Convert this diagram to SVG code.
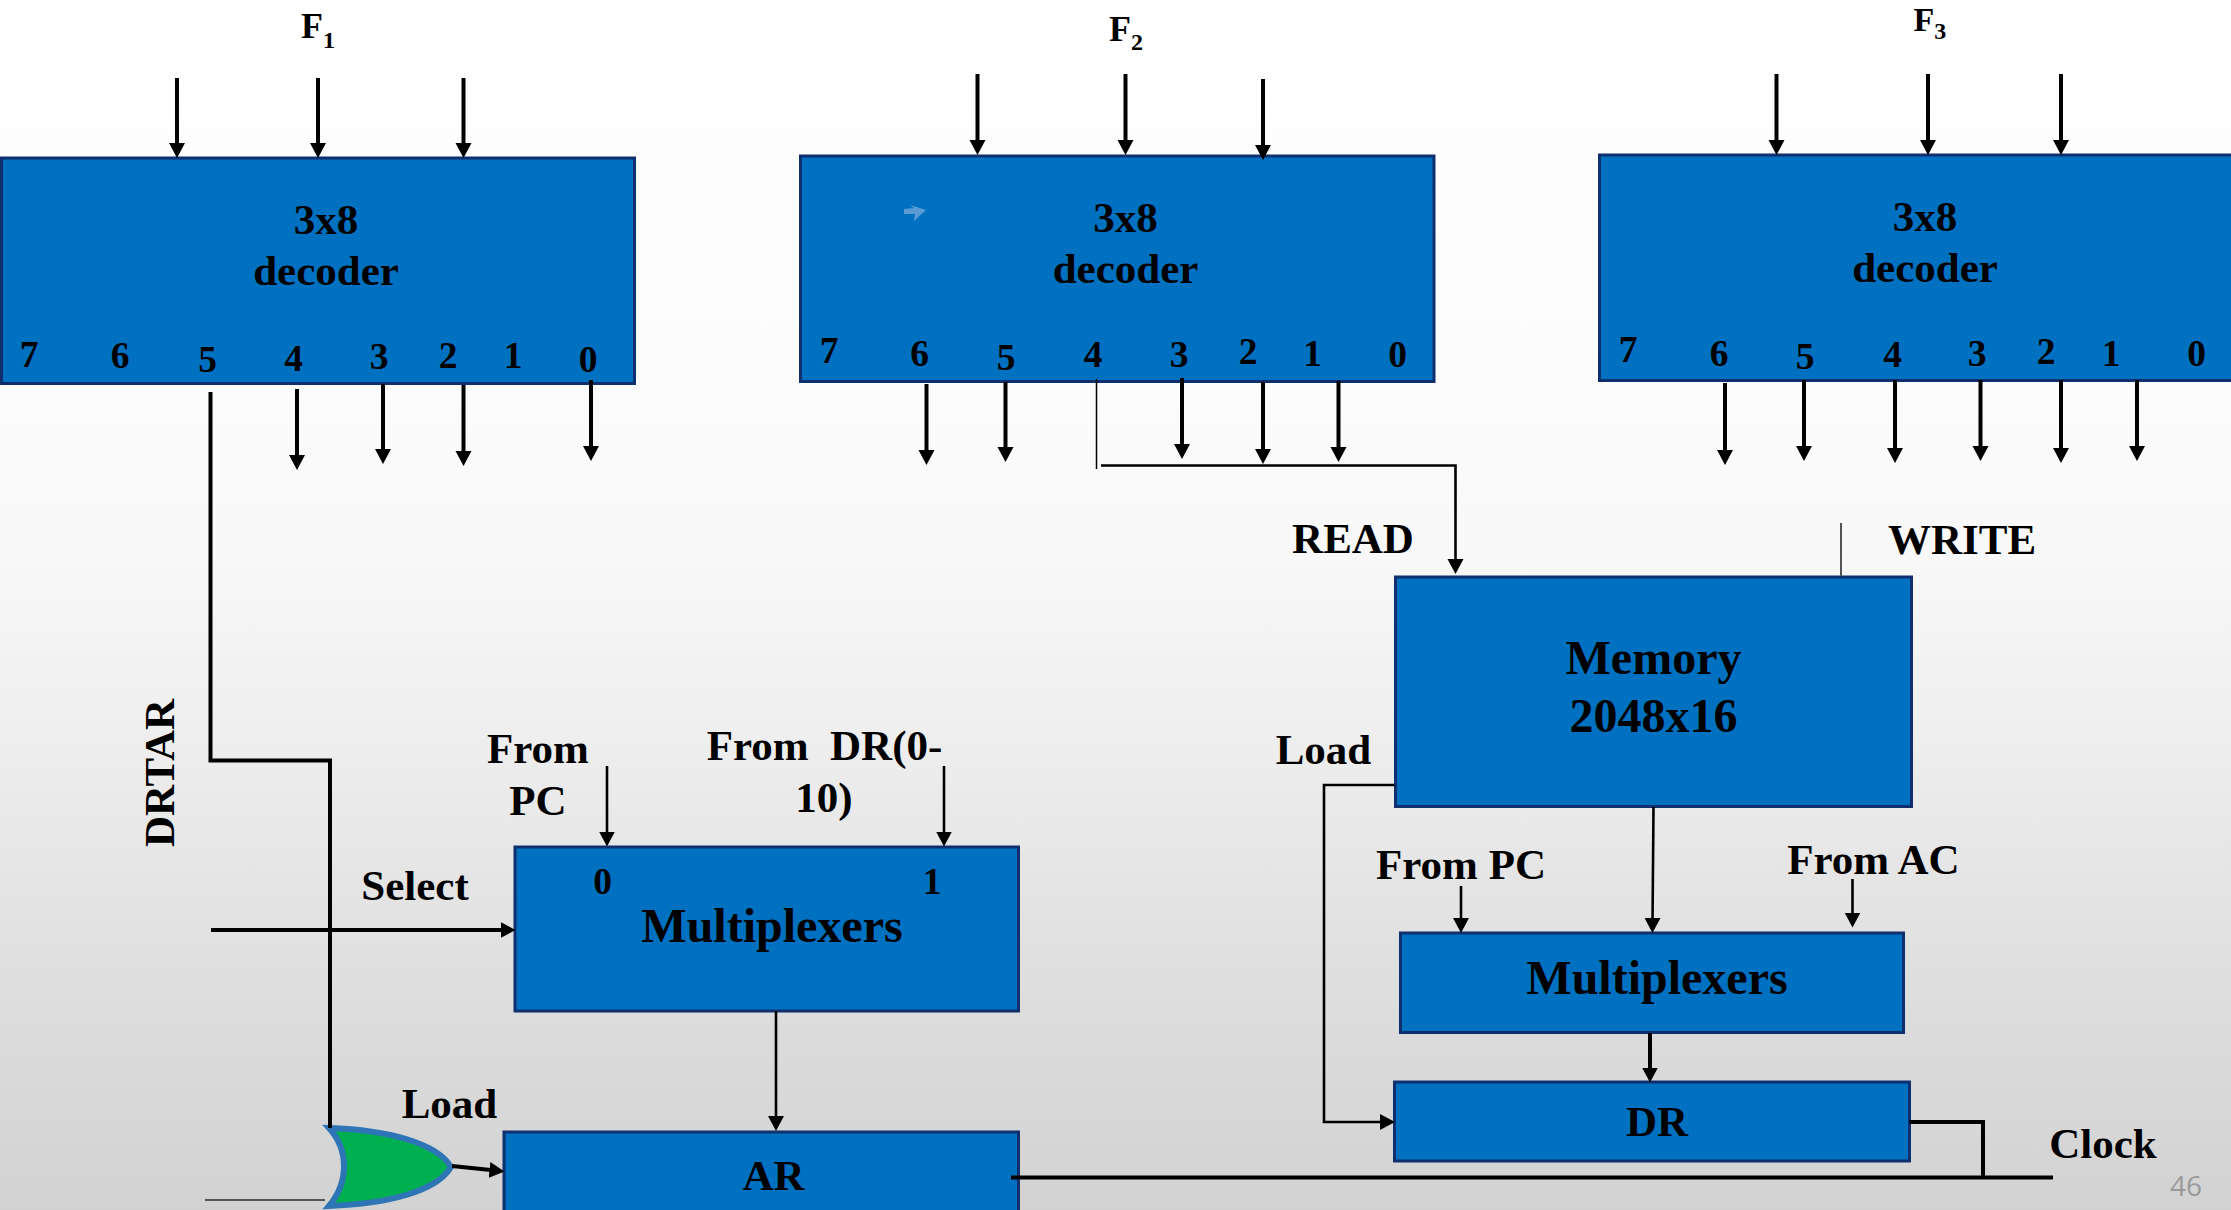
<svg xmlns="http://www.w3.org/2000/svg" width="2231" height="1210" viewBox="0 0 2231 1210">
<style>
.box{fill:#0070c0;stroke:#0f2f6f;stroke-width:3}
text{font-family:"Liberation Serif","Times New Roman",serif;font-weight:700;fill:#000;text-anchor:middle}
.t{font-size:43px}
.b{font-size:48px}
.d{font-size:37.500px}
.l{font-size:43px}
.s{text-anchor:start;font-size:36px}
.w{fill:none;stroke:#000;stroke-width:4}
.a{marker-end:url(#arrow)}
.n{fill:none;stroke:#000;stroke-width:2.600}
.g{fill:none;stroke:#555;stroke-width:2}
</style>
<defs>
<linearGradient id="bg" x1="0" y1="0" x2="0" y2="1">
<stop offset="0" stop-color="#ffffff"/><stop offset="0.3" stop-color="#fcfcfc"/><stop offset="0.46" stop-color="#f8f8f8"/><stop offset="0.6" stop-color="#efefef"/><stop offset="0.8" stop-color="#dfdfdf"/><stop offset="1" stop-color="#d2d2d2"/>
</linearGradient>
<marker id="arrow" markerUnits="userSpaceOnUse" markerWidth="16" markerHeight="17" viewBox="0 0 16 17" refX="6" refY="8.500" orient="auto"><path d="M0 0.500L15 8.500L0 16.500z" fill="#000"/></marker>
</defs>
<rect id="background" width="2231" height="1210" fill="url(#bg)"/>
<g id="decoder1"><rect class="box" x="1.500" y="158" width="633" height="225.500"/>
<text class="t" x="326" y="234">3x8</text><text class="t" x="326" y="285">decoder</text>
<text class="d" x="29" y="367">7</text><text class="d" x="120" y="368">6</text><text class="d" x="207.500" y="372">5</text><text class="d" x="293.500" y="371">4</text><text class="d" x="379" y="369">3</text><text class="d" x="448" y="368">2</text><text class="d" x="513" y="368">1</text><text class="d" x="588" y="372">0</text></g>
<g id="decoder2"><rect class="box" x="800.500" y="156" width="633.500" height="225.500"/>
<path d="M904 209L914 208L910 205L926 210L914 221L915 214L904 214z" fill="#5b9bd5"/>
<text class="t" x="1125.500" y="232">3x8</text><text class="t" x="1125.500" y="283">decoder</text>
<text class="d" x="829" y="363">7</text><text class="d" x="919.500" y="366">6</text><text class="d" x="1006" y="370">5</text><text class="d" x="1093" y="367">4</text><text class="d" x="1179" y="367">3</text><text class="d" x="1248" y="364">2</text><text class="d" x="1312.500" y="366">1</text><text class="d" x="1397.500" y="367">0</text></g>
<g id="decoder3"><rect class="box" x="1599.500" y="155" width="634" height="225.500"/>
<text class="t" x="1925" y="231">3x8</text><text class="t" x="1925" y="282">decoder</text>
<text class="d" x="1628" y="362">7</text><text class="d" x="1719" y="365.500">6</text><text class="d" x="1805" y="369">5</text><text class="d" x="1892.500" y="366.500">4</text><text class="d" x="1977" y="366">3</text><text class="d" x="2046" y="363.500">2</text><text class="d" x="2111" y="365.500">1</text><text class="d" x="2196.500" y="365.500">0</text></g>
<g id="memory"><rect class="box" x="1395.500" y="577" width="516" height="229.500"/>
<text class="b" x="1653.500" y="674">Memory</text><text class="b" x="1653.500" y="732">2048x16</text></g>
<g id="mux2"><rect class="box" x="1400.500" y="933" width="503" height="99.500"/><text class="b" x="1657" y="994">Multiplexers</text></g>
<g id="dr"><rect class="box" x="1394.500" y="1082" width="515" height="79"/><text class="t" x="1657" y="1136">DR</text></g>
<g id="mux1"><rect class="box" x="515" y="847" width="503.500" height="164"/>
<text class="d" x="602.500" y="893.500">0</text><text class="d" x="932" y="893.500">1</text>
<text class="b" x="772" y="942">Multiplexers</text></g>
<g id="ar"><rect class="box" x="504" y="1132" width="514.500" height="90"/><text class="t" x="773.500" y="1190">AR</text></g>
<g id="orgate"><path d="M329 1128C388 1130 437 1143 451 1167C437 1191 388 1204 329 1206C349 1182 349 1150 329 1128z" fill="#00b050" stroke="#2e75b6" stroke-width="6"/></g>
<g id="connectors">
<path class="w a" d="M177 78V149"/><path class="w a" d="M318 78V149"/><path class="w a" d="M463.500 78V149"/>
<path class="w a" d="M297 389V461"/><path class="w a" d="M383 384V455"/><path class="w a" d="M463.500 385V457"/><path class="w a" d="M591 380V452"/>
<path class="w a" d="M977.500 74V146"/><path class="w a" d="M1125.500 74V146"/><path class="w a" d="M1263 79V151"/>
<path class="w a" d="M926.500 384V456"/><path class="w a" d="M1005.500 382V453"/><path class="w a" d="M1182 378V450"/><path class="w a" d="M1263 382V455"/><path class="w a" d="M1338.500 381V453"/>
<path class="w a" d="M1776.500 74V146"/><path class="w a" d="M1928 74V146"/><path class="w a" d="M2061 74V146"/>
<path class="w a" d="M1725 383V456"/><path class="w a" d="M1804 380V452"/><path class="w a" d="M1895 380V454"/><path class="w a" d="M1980.500 380V452"/><path class="w a" d="M2061 380V454"/><path class="w a" d="M2137 380V452"/>
<path class="w a" d="M211 930H506.500"/>
<path class="w a" d="M452 1166L495.500 1170.500"/>
<path class="w a" d="M1650 1033V1073.500"/>
<path class="n a" d="M607 766V837.500"/><path class="n a" d="M944 766V837.500"/>
<path class="n a" d="M776 1011V1122"/>
<path class="n a" d="M1653.500 807L1652.500 924"/>
<path class="n a" d="M1461 886V924"/><path class="n a" d="M1852.500 879V918.500"/>
<path class="n a" d="M1394.500 785H1324V1122H1386"/>
<path class="n a" d="M1101 465.500H1455.500V565"/>
<path class="n" d="M1096.500 379V469" style="stroke-width:1.500"/>
<path class="g" d="M1841 523V576"/>
<path class="g" d="M205 1200H325"/>
<path class="w" d="M210.500 392V760.500H330V1128"/>
<path class="w" d="M1909.500 1122H1983V1177.500"/>
<path class="w" d="M1011 1177.500H2053"/>
</g>
<g id="labels">
<text class="s" x="301" y="38">F<tspan font-size="24" dy="10">1</tspan></text>
<text class="s" x="1109" y="40.500">F<tspan font-size="24" dy="9">2</tspan></text>
<text class="s" x="1913.500" y="30.500" style="font-size:34px">F<tspan font-size="24" dy="8">3</tspan></text>
<text class="l" x="1353" y="552.500">READ</text>
<text class="l" x="1962" y="553.500">WRITE</text>
<text class="l" x="1323.500" y="764">Load</text>
<text class="l" x="1461" y="878.500">From PC</text>
<text class="l" x="1873.500" y="873.500">From AC</text>
<text class="l" x="2103" y="1157.500">Clock</text>
<text class="l" transform="translate(174 773) rotate(-90)">DRTAR</text>
<text class="l" x="538" y="763">From</text><text class="l" x="538" y="814.500">PC</text>
<text class="l" x="824.500" y="760" xml:space="preserve">From  DR(0-</text><text class="l" x="824" y="811.500">10)</text>
<text class="l" x="415" y="900">Select</text>
<text class="l" x="449.500" y="1118">Load</text>
<text x="2186" y="1195.500" style="font-family:'Open Sans',sans-serif;font-weight:400;font-size:28px;fill:#9a9a9a">46</text>
</g>
</svg>
